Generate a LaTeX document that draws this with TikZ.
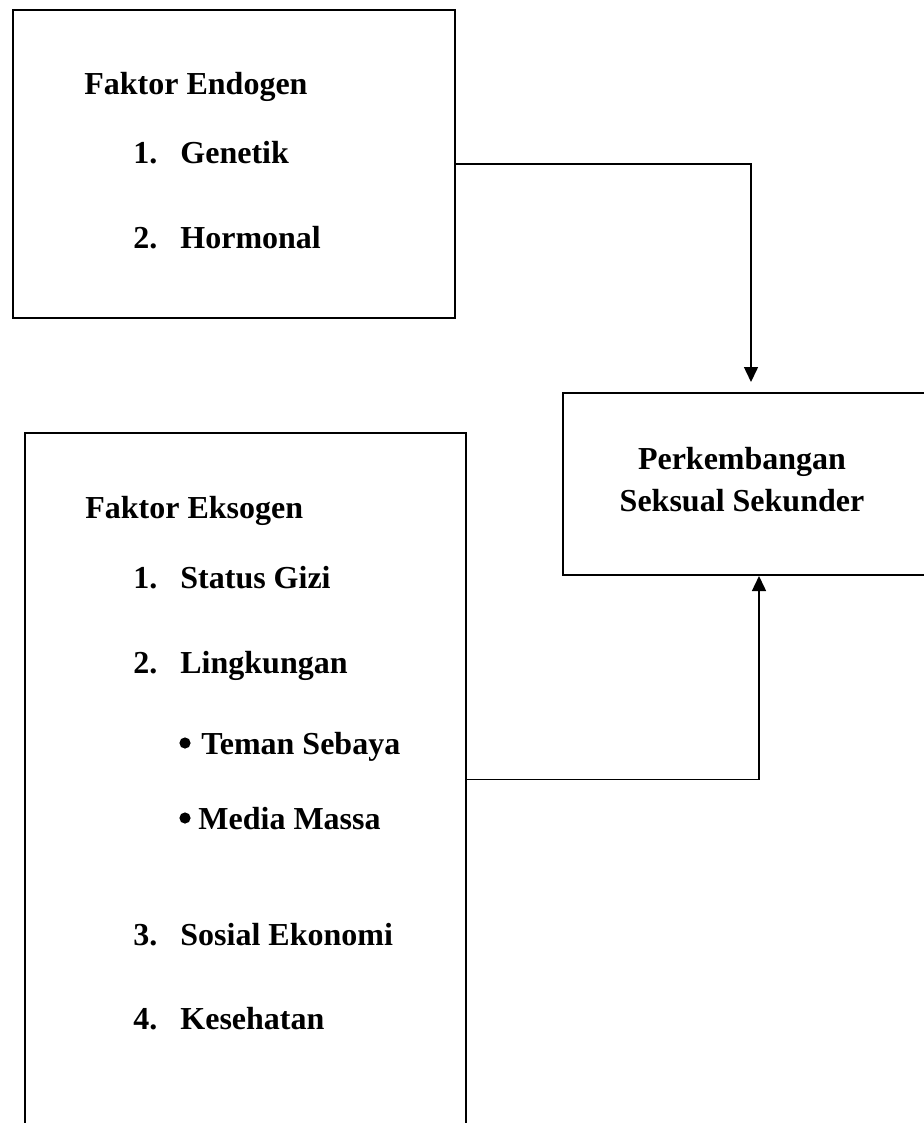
\documentclass[tikz,border=0pt]{standalone}
\usepackage{fontspec}
\setmainfont{Liberation Serif}
\usetikzlibrary{positioning, arrows.meta}
\tikzset{
    x=0.5pt, y=-0.5pt,
    box/.style={draw, line width=1pt, inner sep=0pt},
    lbl/.style={anchor=base west, inner sep=0pt, font=\fontsize{16}{19}\selectfont\bfseries},
    mid/.style={lbl, anchor=base},
    dot/.style={circle, fill, inner sep=0pt, minimum size=5.6pt},
    arr/.style={line width=0.75pt, -{Triangle[length=7.5pt, width=7pt]}}
}

\begin{document}
\begin{tikzpicture}
    % page frame
        \useasboundingbox (0,0) rectangle (924,1123);
        \node[box, minimum width=221pt, minimum height=154pt] (endo) at (234,164) {};
        \node[box, minimum width=220.5pt, minimum height=346.5pt] (ekso) at (245.5,779.5) {};
        \node[box, minimum width=183.5pt, minimum height=91pt] (perk) at (746.5,484) {};

    % faktor endogen
        \node[lbl] (endoT) at (84,95) {Faktor Endogen};
        \node[lbl] (n1) at (133,164) {1.};
        \node[lbl] (gen) at (180,164) {Genetik};
        \node[lbl] (n2) at (133,249) {2.};
        \node[lbl] (hor) at (180,249) {Hormonal};

    % faktor eksogen
        \node[lbl] (eksoT) at (85,518) {Faktor Eksogen};
        \node[lbl] (m1) at (133,588) {1.};
        \node[lbl] (gizi) at (180,588) {Status Gizi};
        \node[lbl] (m2) at (133,673) {2.};
        \node[lbl] (ling) at (180,673) {Lingkungan};
        \node[dot] (b1) at (185,743) {};
        \node[lbl] (teman) at (201,754) {Teman Sebaya};
        \node[dot] (b2) at (185,818) {};
        \node[lbl] (media) at (198,829) {Media Massa};
        \node[lbl] (m3) at (133,945) {3.};
        \node[lbl] (sosek) at (180,945) {Sosial Ekonomi};
        \node[lbl] (m4) at (133,1029) {4.};
        \node[lbl] (sehat) at (180,1029) {Kesehatan};

    % perkembangan
        \node[mid] (perkA) at (742,469) {Perkembangan};
        \node[mid] (perkB) at (742,511) {Seksual Sekunder};

        \draw[arr, shorten >=5pt] (endo.east) -| ([xshift=2.25pt]perk.north);
        \draw[arr] (ekso.east) -| ([xshift=6.25pt]perk.south);

    \end{tikzpicture}
\end{document}
